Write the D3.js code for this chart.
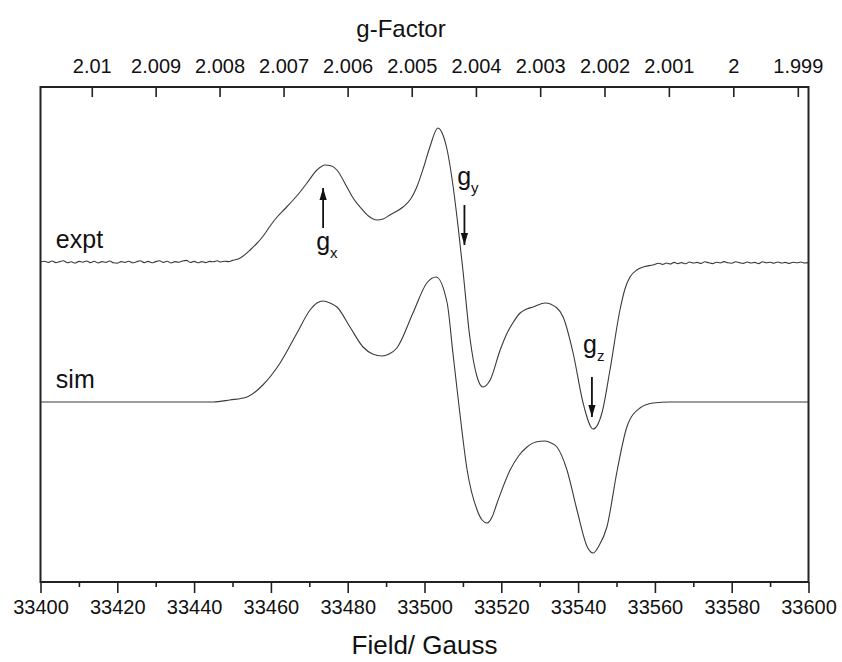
<!DOCTYPE html>
<html>
<head>
<meta charset="utf-8">
<script src="https://cdn.jsdelivr.net/npm/d3@7"></script>
<style>
  body { margin: 0; background: #fff; }
  text { font-family: "Liberation Sans", Arial, sans-serif; fill: #111; }
</style>
</head>
<body>
<div id="chart"></div>
<script>
// field range and tick values
var fieldRange = [33400, 33600];
var fieldMajorTicks = [33400, 33420, 33440, 33460, 33480, 33500, 33520, 33540, 33560, 33580, 33600];
var fieldMinorTicks = [33410, 33430, 33450, 33470, 33490, 33510, 33530, 33550, 33570, 33590];
var gTicks = [2.01, 2.009, 2.008, 2.007, 2.006, 2.005, 2.004, 2.003, 2.002, 2.001, 2.0, 1.999];
var gTickLabels = ["2.01", "2.009", "2.008", "2.007", "2.006", "2.005", "2.004", "2.003", "2.002", "2.001", "2", "1.999"];
var freqGHz = 94.0;   // microwave frequency, g = h*nu/(muB*B)

// experimental trace [field G, signal a.u.]
var exptData = [
  [33400, 0.00], [33401, 0.008], [33402, -0.004], [33403, 0.01], [33404, -0.006], [33405, 0.004],
  [33406, 0.012], [33407, -0.008], [33408, 0.002], [33409, -0.01], [33410, 0.006], [33411, -0.002],
  [33412, 0.01], [33413, -0.006], [33414, 0.008], [33415, -0.01], [33416, 0.004], [33417, -0.004],
  [33418, 0.01], [33419, -0.008], [33420, -0.012], [33421, 0.004], [33422, -0.004], [33423, 0.008],
  [33424, -0.008], [33425, 0.002], [33426, 0.012], [33427, -0.006], [33428, 0.006], [33429, -0.008],
  [33430, 0.004], [33431, 0.012], [33432, -0.004], [33433, 0.008], [33434, -0.01], [33435, 0.004],
  [33436, -0.002], [33437, 0.01], [33438, 0.016], [33439, -0.004], [33440, 0.006], [33441, -0.008],
  [33442, 0.004], [33443, -0.006], [33444, 0.006], [33445, 0.002], [33446, 0.012], [33447, 0.0],
  [33448, 0.008], [33449, 0.004], [33450, 0.016], [33451, 0.024], [33452, 0.04], [33454.6, 0.12],
  [33456.2, 0.18], [33458, 0.26], [33459.8, 0.36], [33461.6, 0.45], [33463.6, 0.53], [33465.8, 0.62],
  [33467.6, 0.70], [33469.4, 0.79], [33472, 0.92], [33474.1, 0.97], [33475.8, 0.96], [33477.2, 0.92],
  [33479.8, 0.75], [33481.4, 0.64], [33483.2, 0.55], [33485.4, 0.46], [33487.6, 0.42], [33489.2, 0.43],
  [33491, 0.47], [33494.4, 0.55], [33496.4, 0.63], [33498, 0.75], [33499.8, 0.95], [33501.4, 1.15],
  [33503.5, 1.34], [33504.8, 1.27], [33505.9, 1.12], [33507.4, 0.77], [33508.7, 0.37], [33510, -0.08],
  [33511.8, -0.75], [33513.7, -1.15], [33515.2, -1.25], [33517.1, -1.18], [33519.7, -0.88], [33521.4, -0.72],
  [33523, -0.61], [33524.9, -0.51], [33526.6, -0.47], [33528.3, -0.45], [33531.4, -0.41], [33534.5, -0.46],
  [33536.1, -0.55], [33538.7, -0.91], [33541.3, -1.41], [33543.9, -1.67], [33546.2, -1.51], [33548.3, -1.08],
  [33550.9, -0.48], [33552.2, -0.27], [33553.5, -0.15], [33555.3, -0.08], [33557.4, -0.045], [33559.5, -0.03],
  [33561, -0.012], [33562, -0.024], [33563, -0.01], [33564, -0.02], [33565, -0.004], [33566, -0.016],
  [33567, -0.006], [33568, -0.018], [33569, 0.0], [33570, -0.01], [33571, -0.004], [33572, -0.014],
  [33573, 0.002], [33574, -0.008], [33575, -0.016], [33576, -0.002], [33577, -0.01], [33578, 0.004],
  [33579, -0.008], [33580, -0.012], [33581, 0.002], [33582, -0.006], [33583, -0.014], [33584, 0.0],
  [33585, -0.01], [33586, -0.004], [33587, -0.016], [33588, 0.002], [33589, -0.008], [33590, -0.002],
  [33591, -0.012], [33592, 0.0], [33593, -0.01], [33594, -0.004], [33595, -0.014], [33596, -0.002],
  [33597, -0.008], [33598, 0.0], [33599, -0.01], [33600, -0.006]
];

// simulated trace [field G, signal a.u.]
var simData = [
  [33400, 0], [33445, 0], [33449.3, 0.02], [33453.8, 0.05], [33457.9, 0.17], [33462.4, 0.39],
  [33466.8, 0.69], [33470.2, 0.92], [33472, 0.99], [33473.6, 1.01], [33475.4, 0.99], [33477.2, 0.95],
  [33480.6, 0.75], [33484, 0.55], [33486.5, 0.48], [33488.9, 0.46], [33490.8, 0.48], [33492.8, 0.54],
  [33497, 0.89], [33500.6, 1.19], [33503, 1.25], [33505.9, 0.99], [33507.4, 0.49], [33509.2, -0.11],
  [33511.1, -0.68], [33513.7, -1.08], [33515, -1.18], [33516.3, -1.21], [33517.6, -1.15], [33518.9, -1.01],
  [33522.3, -0.68], [33524.5, -0.54], [33526.7, -0.45], [33529, -0.40], [33531.4, -0.39], [33533, -0.41],
  [33534.5, -0.45], [33537.1, -0.68], [33539.7, -1.08], [33542.4, -1.45], [33543.9, -1.51], [33545.4, -1.44],
  [33547.5, -1.25], [33550.2, -0.68], [33552.7, -0.25], [33556.1, -0.06], [33559.5, -0.01], [33563.9, 0],
  [33600, 0]
];

var traceNames = ["expt", "sim"];
var traceOffsets = [0, -1.4];
var traceLabelField = [33404, 33404];

// g-tensor arrows: field, arrow from/to (a.u., in expt frame incl. offset), text baseline
var annoNames = ["x", "y", "z"];
var annoField = [33473.6, 33510.4, 33543.6];
var annoFrom = [0.34, 0.57, -1.15];
var annoTo = [0.74, 0.17, -1.55];
var annoTextField = [33471.8, 33508.5, 33541.3];
var annoTextVal = [0.12, 0.77, -0.91];

var W = 842, H = 662;
var margin = {left: 40.5, right: 33.5, top: 87, bottom: 80};

var svg = d3.select("#chart").append("svg")
  .attr("width", W).attr("height", H);

var x = d3.scaleLinear().domain(fieldRange).range([margin.left, W - margin.right]);
var y = d3.scaleLinear().domain([-3.2, 1.75]).range([H - margin.bottom, margin.top]);

var gConst = 0.0714477 * freqGHz * 1000 * 10;   // g*B in gauss

// bottom axis, major ticks with labels
var bottomAxis = d3.axisBottom(x).tickValues(fieldMajorTicks).tickSize(11).tickPadding(7)
  .tickFormat(d3.format("d"));
var gb = svg.append("g").attr("transform", "translate(0," + (H - margin.bottom) + ")").call(bottomAxis);
gb.select(".domain").remove();
gb.selectAll("line").attr("stroke", "#222").attr("stroke-width", 1.6);
gb.selectAll("text").style("font-size", "20px").attr("fill", "#111");

// bottom minor ticks
var gbm = svg.append("g").attr("transform", "translate(0," + (H - margin.bottom) + ")")
  .call(d3.axisBottom(x).tickValues(fieldMinorTicks).tickSize(5).tickFormat(""));
gbm.select(".domain").remove();
gbm.selectAll("line").attr("stroke", "#222").attr("stroke-width", 1.6);

// top g-factor axis, inward ticks
var topAxis = d3.axisTop(x).tickValues(gTicks.map(function(g) { return gConst / g; }))
  .tickSize(-10).tickPadding(14)
  .tickFormat(function(d, i) { return gTickLabels[i]; });
var gt = svg.append("g").attr("transform", "translate(0," + margin.top + ")").call(topAxis);
gt.select(".domain").remove();
gt.selectAll("line").attr("stroke", "#222").attr("stroke-width", 1.6);
gt.selectAll("text").style("font-size", "20px").attr("fill", "#111");

// frame
svg.append("rect")
  .attr("x", margin.left).attr("y", margin.top)
  .attr("width", W - margin.left - margin.right)
  .attr("height", H - margin.top - margin.bottom)
  .attr("fill", "none").attr("stroke", "#222").attr("stroke-width", 2);

// axis titles
svg.append("text").attr("x", 401).attr("y", 37).attr("text-anchor", "middle")
  .style("font-size", "24px").text("g-Factor");
svg.append("text").attr("x", (margin.left + W - margin.right) / 2).attr("y", 654)
  .attr("text-anchor", "middle").style("font-size", "26px").text("Field/ Gauss");

// traces
var traces = [exptData, simData];
var line = d3.line().curve(d3.curveMonotoneX);
traces.forEach(function(data, i) {
  var off = traceOffsets[i];
  svg.append("path")
    .attr("d", line(data.map(function(d) { return [x(d[0]), y(d[1] + off)]; })))
    .attr("fill", "none").attr("stroke", "#3a3a3a").attr("stroke-width", 1.1);
  svg.append("text")
    .attr("x", x(traceLabelField[i])).attr("y", y(off) - 14)
    .style("font-size", "25px").text(traceNames[i]);
});

// arrowhead
svg.append("defs").append("marker")
  .attr("id", "head")
  .attr("viewBox", "0 -5 10 10")
  .attr("refX", 10).attr("refY", 0)
  .attr("markerWidth", 6.7).attr("markerHeight", 6.7)
  .attr("markerUnits", "strokeWidth")
  .attr("orient", "auto")
  .append("path").attr("d", "M0,-3L10,0L0,3Z").attr("fill", "#111");

annoNames.forEach(function(n, i) {
  svg.append("line")
    .attr("x1", x(annoField[i])).attr("x2", x(annoField[i]))
    .attr("y1", y(annoFrom[i])).attr("y2", y(annoTo[i]))
    .attr("stroke", "#111").attr("stroke-width", 1.8)
    .attr("marker-end", "url(#head)");
  var t = svg.append("text")
    .attr("x", x(annoTextField[i])).attr("y", y(annoTextVal[i]))
    .style("font-size", "25px");
  t.append("tspan").text("g");
  t.append("tspan").attr("dy", 8).style("font-size", "15px").text(n);
});
</script>
</body>
</html>
